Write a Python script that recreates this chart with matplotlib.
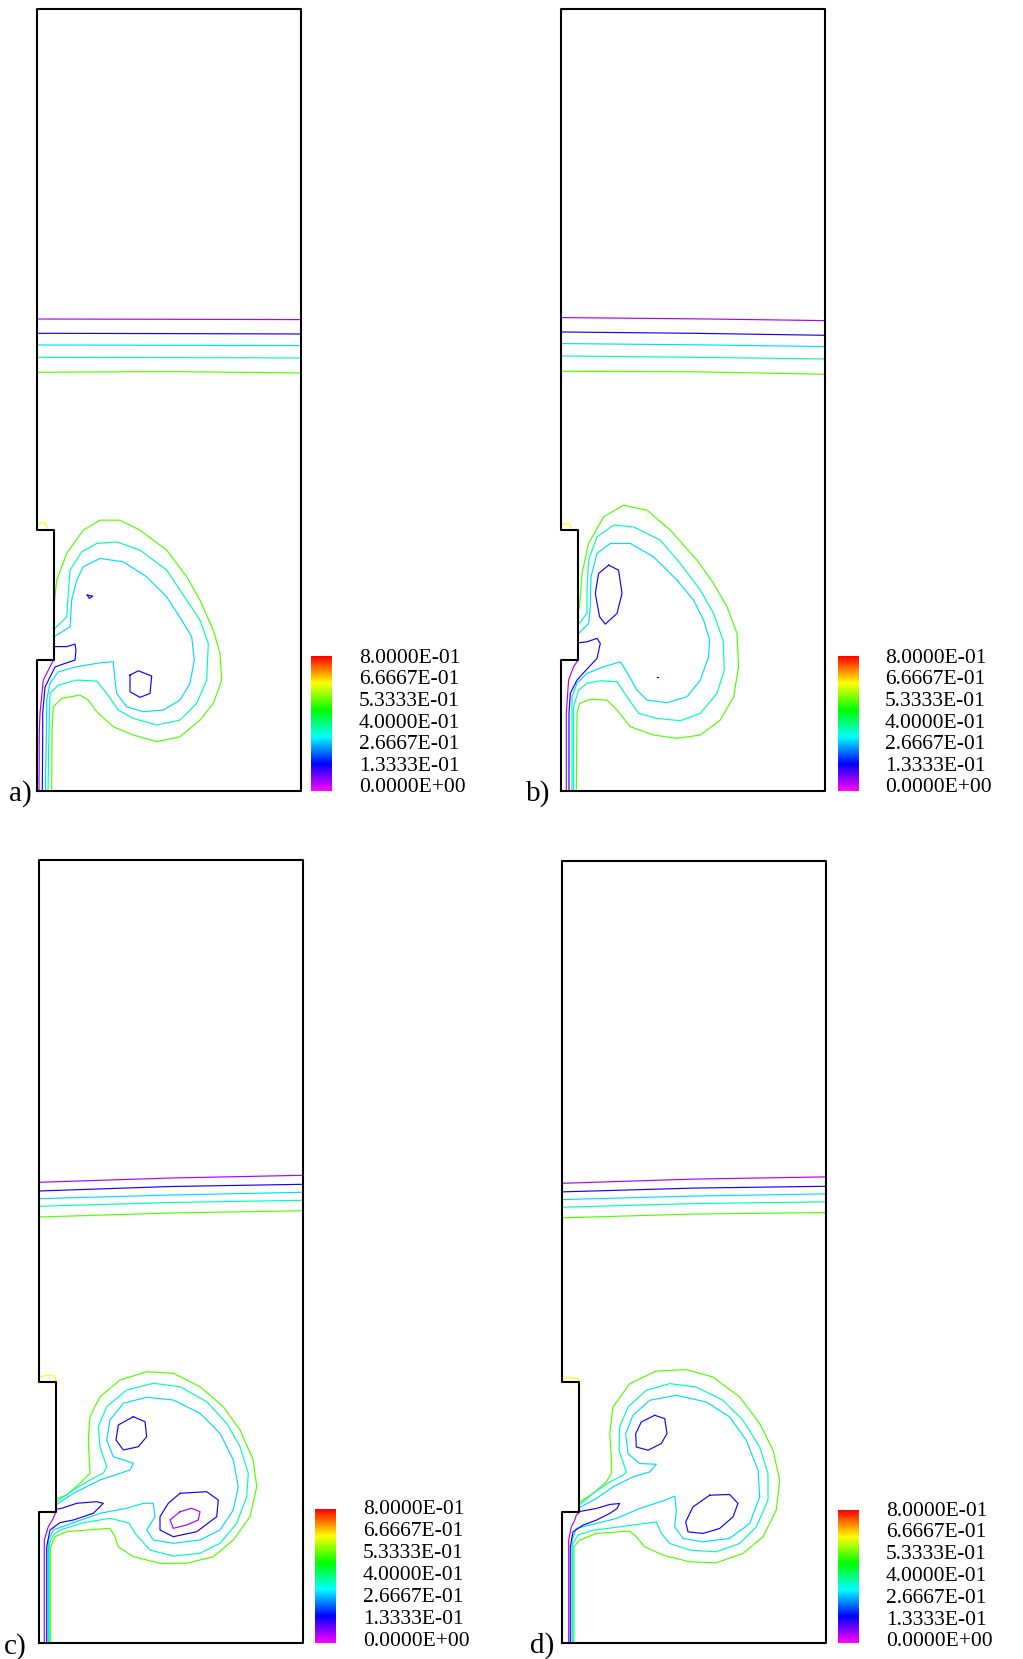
import matplotlib
matplotlib.use('Agg')
import matplotlib.pyplot as plt
import numpy as np
from matplotlib.colors import LinearSegmentedColormap

# domain in data units (264 wide, 783 high), step in the left wall
DOMAIN_W, DOMAIN_H = 264, 783
STEP_DEPTH, STEP_Y0, STEP_Y1 = 17, 131, 261

VMIN, VMAX = 0.0, 0.8
CBAR_LABELS = ["8.0000E-01", "6.6667E-01", "5.3333E-01", "4.0000E-01",
               "2.6667E-01", "1.3333E-01", "0.0000E+00"]
CMAP_COLORS = ["#ff00ff", "#0000ff", "#00ffff", "#00ff00", "#ffff00", "#ff0000"]

# iso-values of the drawn lines
LEV_VIOLET, LEV_BLUE, LEV_CYAN, LEV_AQUA, LEV_GREEN, LEV_YELLOW = 0.055, 0.15, 0.30, 0.37, 0.53, 0.64
BAND_LEVELS = [LEV_VIOLET, LEV_BLUE, LEV_CYAN, LEV_AQUA, LEV_GREEN]
BAND_X = [0, 132, 264]

# ---- panel a ----
a_band = [[472.3, 472.0, 471.7], [458.0, 457.7, 457.3], [446.3, 446.0, 445.7],
          [434.0, 433.7, 433.3], [419.0, 419.7, 418.3]]
a_violet = [(2, 0), (2.3, 60), (3, 78), (6.3, 111), (13, 124.3), (16.5, 131)]
a_blue = [(5.3, 0), (5.7, 60), (5.7, 78), (8, 104), (13, 114), (18, 124), (26, 127), (38, 131),
          (39, 141), (38, 147), (30, 144.5), (16.5, 144.5)]
a_cyan = [(8.3, 0), (9.5, 60), (9.7, 91), (13, 107.7), (21.3, 119.3), (39.7, 124.3), (63, 128.3),
          (76.3, 129.3), (78, 111), (79.7, 97.7), (89.7, 84.3), (106.3, 79.3), (126.3, 81), (143, 91),
          (153, 107.7), (157.3, 131), (154.7, 154.3), (144.7, 171), (129.7, 194.3), (109.7, 214.3),
          (86.3, 229.3), (63, 232.7), (46.3, 224.3), (39.7, 211), (34.7, 191), (33.7, 174.3),
          (33, 164.3), (18, 155), (16.5, 155)]
a_aqua = [(11, 0), (12, 60), (13, 97.7), (21.3, 106), (39.7, 111), (59.7, 110), (69.7, 97.7),
          (81.3, 81), (96.3, 72.7), (119.7, 66), (143, 71), (159.7, 87.7), (169.7, 111),
          (171.3, 147.7), (163, 171), (149.7, 191), (129.7, 221), (103, 241), (79.7, 249.3),
          (59.7, 247.7), (44.7, 239.3), (33, 221), (31.3, 197.7), (29.7, 174.3), (18, 162.7),
          (16.5, 162.5)]
a_green = [(14.7, 0), (15, 60), (16.3, 84.3), (24.7, 92.7), (43, 96), (51.3, 91), (59.7, 79.3),
           (76.3, 64.3), (96.3, 56), (119.7, 49.3), (143, 54.3), (163, 71), (176.3, 87.7),
           (184.7, 111), (183, 137.7), (176.3, 161), (163, 191), (149.7, 214.3), (129.7, 241),
           (103, 261), (83, 271), (63, 271), (46.3, 261), (29.7, 237.7), (19.7, 211), (17, 184.3),
           (16.5, 180)]
a_blue_loop1 = [(50.3, 196), (55.7, 195), (52.3, 192.7), (50.3, 196)]
a_blue_loop2 = [(93, 116), (101.3, 120.3), (114.7, 115), (113, 97.7), (103, 93.7), (93, 99.3), (93, 116)]
a_yellow = [(0, 267), (8, 268.3), (11.3, 261)]

# ---- panel b ----
b_band = [[473.7, 472.5, 470.7], [459.3, 458.0, 456.0], [447.7, 446.5, 444.7],
          [435.3, 434.0, 432.3], [420.0, 419.5, 417.0]]
b_violet = [(5.3, 0), (5.3, 77.7), (7.6, 111), (12.6, 124.3), (17, 131)]
b_blue = [(8, 0), (8, 77.7), (9.3, 97.7), (16, 111), (26, 122), (36, 132.7), (39.3, 147.7),
          (36, 152.7), (26, 149.3), (17, 148.3)]
b_blue_oval = [(47.7, 226), (57.6, 221), (61, 197.7), (56, 177.7), (44.3, 167), (38.6, 174.3),
               (34.3, 197.7), (37.6, 217.7), (47.7, 226)]
b_blue_dot = [(95.8, 114.3), (97.4, 114.3)]
b_cyan = [(11, 0), (11, 94.3), (16, 107.7), (26, 117.7), (42.6, 124.3), (59.3, 129.3), (66.6, 117.7),
          (76, 101), (86, 91), (106, 88.3), (126, 94.3), (139.3, 111), (147.6, 134.3), (148.6, 151),
          (142.6, 171), (132.6, 191), (116, 211), (92.6, 234.3), (69.3, 247.7), (49.3, 247.7),
          (36, 237.7), (30, 214.3), (29.3, 184.3), (27.6, 167.7), (17, 157)]
b_aqua = [(12.6, 0), (12.6, 84.3), (17.6, 101), (26, 107.7), (39.3, 110.3), (56, 109.3), (66, 94.3),
          (77.6, 77.7), (96, 72.7), (119.3, 70.3), (139.3, 77.7), (156, 97.7), (163.3, 121),
          (162, 151), (152.6, 177.7), (139.3, 201), (119.3, 227.7), (99.3, 251), (72.6, 264.3),
          (52.6, 266), (36, 254.3), (27.6, 231), (26, 201), (26, 177.7), (17, 166)]
b_green = [(15.3, 0), (16, 77.7), (18.6, 87.7), (29.3, 91.7), (46, 91), (56, 81), (69.3, 64.3),
           (92.6, 56), (116, 52.7), (139.3, 56), (159.3, 71), (172.6, 94.3), (177.6, 124.3),
           (176, 157.7), (166, 184.3), (152.6, 207.7), (136, 231), (109.3, 261), (86, 281),
           (62.6, 286), (42.6, 274.3), (27.6, 247.7), (21, 217.7), (18.6, 184.3), (17, 180)]
b_yellow = [(0, 267.7), (8.6, 267), (11, 261)]

# ---- panel c ----
c_band = [[460.7, 465.0, 467.7], [452.0, 456.5, 458.7], [444.3, 448.0, 450.7],
          [436.7, 440.5, 442.7], [426.0, 430.0, 432.3]]
c_violet = [(5.3, 0), (5.3, 103), (9.3, 116.3), (14.3, 124.7), (16.7, 130.7)]
c_blue = [(7.7, 0), (7.7, 96.3), (11, 113), (21, 120.3), (34.3, 123), (54.3, 129.7), (61, 136.3),
          (64.3, 139.7), (57.7, 141.3), (37.7, 139.7), (22.7, 134.7), (16.7, 133.7)]
c_cyan = [(9.3, 0), (9.3, 103), (14.3, 113), (27.7, 118), (61, 129.7), (87.7, 134.7), (104.3, 139.7),
          (114.3, 139.7), (116, 126.3), (107.7, 113), (114.3, 103), (134.3, 99.7), (161, 103),
          (181, 113), (194.3, 133), (199.3, 156.3), (194.3, 183), (181, 209.7), (161, 229.7),
          (134.3, 243), (107.7, 245.7), (84.3, 239.7), (71, 223), (67.7, 203), (74.3, 186.3),
          (94.3, 179.7), (91, 173), (61, 163), (34.3, 149.7), (16.7, 138)]
c_aqua = [(10.3, 0), (10.3, 99.7), (14.3, 108), (21, 113), (44.3, 120.3), (71, 124.7), (90, 120),
          (96, 109.7), (111, 93), (134.3, 87), (161, 89.7), (181, 99.7), (197.7, 119.7),
          (207.7, 146.3), (209.3, 169.7), (201, 196.3), (187.7, 219.7), (167.7, 241.3), (141, 256.3),
          (114.3, 259.7), (87.7, 253), (67.7, 236.3), (59.3, 216.3), (61, 196.3), (67.7, 176.3),
          (64.3, 169.7), (51, 163), (34.3, 153), (16.7, 140.7)]
c_green = [(11.7, 0), (11.7, 96.3), (16, 106.3), (27.7, 111.3), (47.7, 113), (71, 114.7), (76, 106.3),
           (79.3, 96.3), (94.3, 86.3), (121, 79.7), (147.7, 79.7), (174.3, 86.3), (194.3, 103),
           (211, 126.3), (217.7, 156.3), (214.3, 183), (201, 213), (184.3, 236.3), (161, 256.3),
           (134.3, 269.7), (107.7, 271.3), (81, 263), (61, 246.3), (51, 226.3), (49.3, 203),
           (51, 169.7), (41, 159.7), (27.7, 148), (16.7, 143.7)]
c_blue_oval = [(94.3, 226.3), (106, 221.3), (107.7, 206.3), (99.3, 196.3), (84.3, 193), (77, 203),
               (79.3, 218), (94.3, 226.3)]
c_blue_ellipse = [(141, 149.7), (167.7, 151.3), (179.3, 143), (177.7, 126.3), (157.7, 111.3),
                  (134.3, 106.3), (121, 113), (121, 126.3), (129.3, 139.7), (141, 149.7)]
c_core = [(141, 131.3), (152.7, 134.7), (161, 131.3), (159.3, 123), (147.7, 118), (134.3, 114.7),
          (131, 123), (141, 131.3)]
c_yellow = [(0, 266.3), (11, 268), (16, 266.3), (17, 261.3)]

# ---- panel d ----
d_band = [[460.3, 464.5, 466.7], [451.7, 455.5, 457.3], [444.0, 447.5, 449.7],
          [436.3, 440.0, 441.7], [425.7, 429.5, 431.0]]
d_violet = [(6.7, 0), (6.7, 103), (9.3, 116.3), (12.7, 123), (14.3, 128), (17, 130.3)]
d_blue = [(8.3, 0), (8.3, 96.3), (11, 111.3), (21, 118), (34.3, 123), (47.7, 129.7), (55, 134.7),
          (57.7, 139.7), (47.7, 138.7), (34.3, 134.7), (21, 132.3), (17, 131.5)]
d_cyan = [(10, 0), (10, 103), (14.3, 114.7), (34.3, 119.7), (54.3, 124.7), (77.7, 134.7), (101, 142.3),
          (112.7, 147), (114.3, 133), (112.7, 116.3), (121, 104.7), (141, 101.3), (167.7, 104.7),
          (187.7, 119.7), (197.7, 146.3), (196, 173), (184.3, 203), (167.7, 226.3), (144.3, 241.3),
          (114.3, 248), (87.7, 243), (71, 228), (63.7, 209.7), (66, 189.7), (77.7, 179.7),
          (94.3, 179), (87.7, 171.3), (71, 166.3), (51, 156.3), (34.3, 144.7), (17, 135.3)]
d_aqua = [(11, 0), (11, 99.7), (16, 108), (31, 113), (57.7, 116.3), (94.3, 121.3), (99.3, 109.7),
          (107.7, 99.7), (127.7, 93), (154.3, 91.3), (177.7, 99.7), (194.3, 116.3), (206, 143),
          (206, 169.7), (197.7, 196.3), (181, 223), (161, 243), (134.3, 256.3), (107.7, 259.7),
          (84.3, 253), (66, 236.3), (57.7, 216.3), (57, 193), (64.3, 171.3), (61, 168), (47.7, 161.3),
          (31, 149.7), (17, 138)]
d_green = [(12, 0), (12, 96.3), (17.7, 103), (34.3, 109.7), (67.7, 112), (74.3, 106.3), (82.7, 96.3),
           (101, 88), (127.7, 81.3), (154.3, 80.3), (181, 89.7), (201, 106.3), (214.3, 133),
           (217.7, 163), (211, 193), (197.7, 219.7), (177.7, 246.3), (151, 266.3), (124.3, 273.7),
           (94.3, 272.3), (67.7, 259.7), (51, 236.3), (47.7, 210), (49.3, 186.3), (49.3, 169.7),
           (44.3, 161.3), (31, 149.7), (17, 140.7)]
d_blue_oval = [(92.7, 228), (102.7, 224.7), (105, 209.7), (99.3, 199.7), (86, 193), (74.3, 196.3),
               (73.7, 209.7), (79.3, 221.3), (92.7, 228)]
d_blue_ellipse = [(147.7, 148), (167.7, 148.7), (176, 139.7), (171, 126.3), (157.7, 114.7),
                  (141, 109.7), (126, 111.3), (123.7, 121.3), (131, 136.3), (147.7, 148)]
d_yellow = [(0, 264.7), (7.7, 265.7), (16, 264.7), (17, 261.3)]

W_PX, H_PX = 1023, 1659
cmap = LinearSegmentedColormap.from_list("hue", CMAP_COLORS)


def px_axes(fig, x0, y0, x1, y1):
    return fig.add_axes([x0 / W_PX, 1 - y1 / H_PX, (x1 - x0) / W_PX, (y1 - y0) / H_PX])


def lev_color(v):
    return cmap((v - VMIN) / (VMAX - VMIN))


def draw_panel(fig, box, tag, tag_pos, band, lines):
    ax = px_axes(fig, *box)
    ax.set_xlim(0, DOMAIN_W)
    ax.set_ylim(0, DOMAIN_H)
    ax.axis('off')

    # outline of the domain with the step in the left wall
    ox = [0, DOMAIN_W, DOMAIN_W, 0, 0, STEP_DEPTH, STEP_DEPTH, 0, 0]
    oy = [0, 0, DOMAIN_H, DOMAIN_H, STEP_Y1, STEP_Y1, STEP_Y0, STEP_Y0, 0]
    ax.plot(ox, oy, color='black', lw=1.5, clip_on=False, zorder=5)

    for lev, ys in zip(BAND_LEVELS, band):
        ax.plot(BAND_X, ys, color=lev_color(lev), lw=0.85)
    for lev, pts in lines:
        xs, ys = zip(*pts)
        ax.plot(xs, ys, color=lev_color(lev), lw=0.85)

    fig.text(tag_pos[0] / W_PX, 1 - tag_pos[1] / H_PX, tag, fontsize=21,
             family='Liberation Serif', ha='left', va='baseline')


def draw_cbar(fig, box, label_x, row_top, row_bot):
    cax = px_axes(fig, *box)
    grad = np.linspace(VMIN, VMAX, 256).reshape(-1, 1)
    cax.imshow(grad, origin='lower', aspect='auto', cmap=cmap, vmin=VMIN, vmax=VMAX)
    cax.axis('off')
    n = len(CBAR_LABELS)
    for i, lab in enumerate(CBAR_LABELS):
        y = row_top + i * (row_bot - row_top) / (n - 1)
        fig.text(label_x / W_PX, 1 - y / H_PX, lab, fontsize=15.5,
                 family='Liberation Serif', ha='left', va='center')


fig = plt.figure(figsize=(W_PX / 100, H_PX / 100), dpi=100)

panels = [
    ((37, 8.5, 301, 791), "a)", (9, 801), a_band,
     [(LEV_GREEN, a_green), (LEV_AQUA, a_aqua), (LEV_CYAN, a_cyan), (LEV_BLUE, a_blue),
      (LEV_VIOLET, a_violet), (LEV_BLUE, a_blue_loop1), (LEV_BLUE, a_blue_loop2),
      (LEV_YELLOW, a_yellow)]),
    ((561, 8.5, 825, 791), "b)", (526, 801), b_band,
     [(LEV_GREEN, b_green), (LEV_AQUA, b_aqua), (LEV_CYAN, b_cyan), (LEV_BLUE, b_blue),
      (LEV_VIOLET, b_violet), (LEV_BLUE, b_blue_oval), (LEV_BLUE, b_blue_dot),
      (LEV_YELLOW, b_yellow)]),
    ((39, 860, 303, 1643), "c)", (4, 1654), c_band,
     [(LEV_GREEN, c_green), (LEV_AQUA, c_aqua), (LEV_CYAN, c_cyan), (LEV_BLUE, c_blue),
      (LEV_VIOLET, c_violet), (LEV_BLUE, c_blue_oval), (LEV_BLUE, c_blue_ellipse),
      (LEV_VIOLET, c_core), (LEV_YELLOW, c_yellow)]),
    ((562, 861, 826, 1643), "d)", (530, 1653), d_band,
     [(LEV_GREEN, d_green), (LEV_AQUA, d_aqua), (LEV_CYAN, d_cyan), (LEV_BLUE, d_blue),
      (LEV_VIOLET, d_violet), (LEV_BLUE, d_blue_oval), (LEV_BLUE, d_blue_ellipse),
      (LEV_YELLOW, d_yellow)]),
]
for box, tag, tag_pos, band, lines in panels:
    draw_panel(fig, box, tag, tag_pos, band, lines)

draw_cbar(fig, (311, 656, 332, 791), 359, 658, 788)
draw_cbar(fig, (838, 656, 859, 791), 885, 658, 788)
draw_cbar(fig, (315, 1509, 336, 1643), 363, 1510, 1642)
draw_cbar(fig, (838, 1510, 859, 1643), 886, 1511, 1642)

fig.savefig("out.png", dpi=100, facecolor='white')
